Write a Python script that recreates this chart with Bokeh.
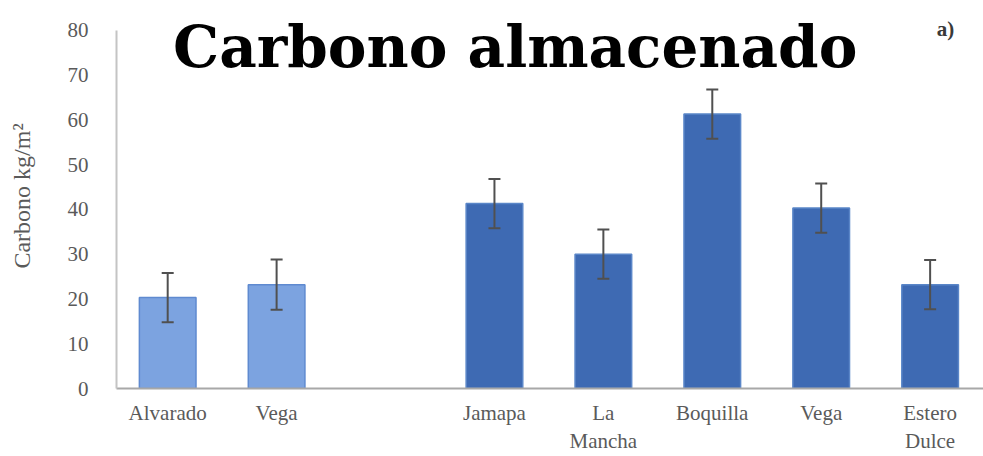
from bokeh.plotting import figure
from bokeh.models import (ColumnDataSource, Range1d, FixedTicker, Whisker,
                          TeeHead, Label)
from bokeh.embed import file_html
from bokeh.resources import INLINE

# Stored carbon (kg/m2) by site, two groups of sites
group1_sites = ["Alvarado", "Vega"]
group1_carbon = [20.3, 23.2]
group1_err = [5.5, 5.6]

group2_sites = ["Jamapa", "La\nMancha", "Boquilla", "Vega", "Estero\nDulce"]
group2_carbon = [41.3, 30.0, 61.3, 40.3, 23.2]
group2_err = [5.5, 5.5, 5.5, 5.5, 5.5]

y_ticks = [0, 10, 20, 30, 40, 50, 60, 70, 80]

LIGHT = "#7ca3e0"
LIGHT_EDGE = "#5f8ad0"
DARK = "#3e6ab3"
DARK_EDGE = "#5a86c8"

# slot index for each bar: one empty slot separates the two groups
x1 = list(range(len(group1_sites)))
x2 = [len(group1_sites) + 1 + i for i in range(len(group2_sites))]

def make_source(xs, vals, errs):
    return ColumnDataSource(dict(
        x=xs, top=vals,
        upper=[v + e for v, e in zip(vals, errs)],
        lower=[v - e for v, e in zip(vals, errs)],
    ))

src1 = make_source(x1, group1_carbon, group1_err)
src2 = make_source(x2, group2_carbon, group2_err)

# the plot area runs a little past 80 so the heading has room; the axis stops at 80
p = figure(width=983, height=456, output_backend="svg", toolbar_location=None,
           x_range=Range1d(-0.47, 7.49), y_range=Range1d(0, 86))
p.min_border_left = 116
p.min_border_right = 0
p.min_border_top = 3
p.min_border_bottom = 68
p.outline_line_color = None
p.background_fill_color = "white"
p.border_fill_color = "white"
p.xgrid.visible = False
p.ygrid.visible = False

p.vbar(x="x", top="top", width=0.52, source=src1, fill_color=LIGHT,
       line_color=LIGHT_EDGE, line_width=1.5)
p.vbar(x="x", top="top", width=0.52, source=src2, fill_color=DARK,
       line_color=DARK_EDGE, line_width=1.5)

# error bars drawn on top of the bars
for src in (src1, src2):
    w = Whisker(source=src, base="x", upper="upper", lower="lower",
                line_color="#505050", line_width=2, level="overlay",
                upper_head=TeeHead(size=12, line_color="#505050", line_width=2),
                lower_head=TeeHead(size=12, line_color="#505050", line_width=2))
    p.add_layout(w)

SERIF = "Liberation Serif"
TICK_COLOR = "#5a5a5a"

# y axis
p.yaxis.bounds = (0, 80)
p.yaxis.ticker = FixedTicker(ticks=y_ticks)
p.yaxis.axis_label = "Carbono kg/m²"
p.yaxis.axis_label_text_font = SERIF
p.yaxis.axis_label_text_font_style = "normal"
p.yaxis.axis_label_text_font_size = "24px"
p.yaxis.axis_label_text_color = TICK_COLOR
p.yaxis.axis_label_standoff = 30
p.yaxis.major_label_text_font = SERIF
p.yaxis.major_label_text_font_size = "21px"
p.yaxis.major_label_text_color = TICK_COLOR
p.yaxis.major_label_standoff = 22
p.yaxis.major_tick_line_color = None
p.yaxis.minor_tick_line_color = None
p.yaxis.axis_line_color = "#c4c4c4"
p.yaxis.axis_line_width = 2

# x axis with site names
p.xaxis.ticker = FixedTicker(ticks=x1 + x2)
p.xaxis.major_label_overrides = {x: s for x, s in zip(x1 + x2, group1_sites + group2_sites)}
p.xaxis.major_label_text_font = SERIF
p.xaxis.major_label_text_font_size = "21px"
p.xaxis.major_label_text_color = TICK_COLOR
p.xaxis.major_label_standoff = 6
p.xaxis.major_tick_line_color = None
p.xaxis.minor_tick_line_color = None
p.xaxis.axis_line_color = "#a8a8a8"
p.xaxis.axis_line_width = 2

# heading and panel tag
p.add_layout(Label(x=3.19, y=76.2, text="Carbono almacenado", text_align="center",
                   text_baseline="alphabetic", text_font="DejaVu Serif",
                   text_font_style="bold", text_font_size="58px",
                   text_color="black"))
p.add_layout(Label(x=7.14, y=80.4, text="a)", text_align="center",
                   text_baseline="middle", text_font=SERIF,
                   text_font_style="bold", text_font_size="21px",
                   text_color="#3a3a3a"))

open("out.html", "w").write(file_html(p, INLINE))
